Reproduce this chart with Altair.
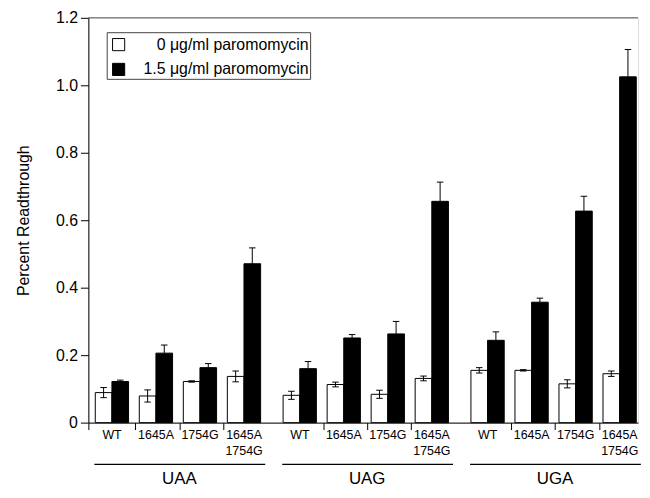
import altair as alt
import pandas as pd

# ---- data ----
codons = ["UAA", "UAG", "UGA"]
mutants = ["WT", "1645A", "1754G", "1645A\n1754G"]
series = ["0 μg/ml paromomycin", "1.5 μg/ml paromomycin"]
no_paro = [0.089, 0.079, 0.122, 0.137, 0.081, 0.113, 0.084, 0.131, 0.155, 0.155, 0.115, 0.145]
no_paro_err = [0.015, 0.018, 0.002, 0.016, 0.012, 0.007, 0.012, 0.007, 0.008, 0.002, 0.012, 0.008]
paro = [0.122, 0.206, 0.163, 0.471, 0.160, 0.251, 0.263, 0.656, 0.244, 0.357, 0.627, 1.025]
paro_err = [0.004, 0.024, 0.012, 0.047, 0.021, 0.010, 0.037, 0.057, 0.025, 0.012, 0.044, 0.081]
y_ticks = [0, 0.2, 0.4, 0.6, 0.8, 1.0, 1.2]

# ---- layout constants (in band units) ----
GAP = 0.267
STEP = 4 + GAP
BAR_W = 0.378
BAR_OFF = 0.09
CAP = 0.074
DMIN = -0.067
DMAX = 12.42
W, H = 554, 408

rows = []
for ci, c in enumerate(codons):
    for mi, m in enumerate(mutants):
        k = ci * 4 + mi
        for si, (vals, errs) in enumerate([(no_paro, no_paro_err), (paro, paro_err)]):
            v, e = vals[k], errs[k]
            xs = ci * STEP + mi + BAR_OFF + si * BAR_W
            xc = xs + BAR_W / 2
            rows.append(dict(codon=c, mutant=m, series=series[si], si=si, value=v,
                             lo=(v - e) if si == 0 else v, hi=v + e,
                             xs=xs, xe=xs + BAR_W, xc=xc, cl=xc - CAP, cr=xc + CAP))
df = pd.DataFrame(rows)

lab = pd.DataFrame([dict(mutant=m, xm=ci * STEP + mi + 0.47)
                    for ci in range(len(codons)) for mi, m in enumerate(mutants)])
cod = pd.DataFrame([dict(codon=c, xcen=ci * STEP + 2, x0=ci * STEP + 0.07, x1=ci * STEP + 3.95)
                    for ci, c in enumerate(codons)])

x_tick_vals = [DMIN] + [ci * STEP + j for ci in range(3) for j in (1, 2, 3)]

xscale = alt.Scale(domain=[DMIN, DMAX], nice=False, zero=False)
yscale = alt.Scale(domain=[0, 1.2], nice=False)
xaxis = alt.Axis(values=x_tick_vals, labels=False, tickSize=7, title=None, grid=False,
                 domainColor="black", tickColor="black")
yaxis = alt.Axis(values=y_ticks, labelExpr="datum.value == 0 ? '0' : format(datum.value, '.1f')",
                 tickSize=8, labelPadding=3, labelFontSize=16, title="Percent Readthrough",
                 titleFontSize=16, titleFontWeight="normal", titlePadding=24, grid=False,
                 domainColor="black", tickColor="black", labelColor="black", titleColor="black")


def X(f):
    return alt.X(f, type="quantitative", scale=xscale, axis=xaxis)


def Y(f):
    return alt.Y(f, type="quantitative", scale=yscale, axis=yaxis)


bars = alt.Chart(df).mark_bar(stroke="black", strokeWidth=1).encode(
    x=X("xs"), x2="xe", y=Y("value"), y2=alt.datum(0),
    fill=alt.Fill("series:N", scale=alt.Scale(domain=series, range=["white", "black"]), legend=None),
)
whisk = alt.Chart(df).mark_rule(color="black", strokeWidth=1).encode(x=X("xc"), y=Y("lo"), y2="hi")
cap_top = alt.Chart(df).mark_rule(color="black", strokeWidth=1).encode(x=X("cl"), x2="cr", y=Y("hi"))
cap_bot = alt.Chart(df).transform_filter("datum.si == 0").mark_rule(color="black", strokeWidth=1).encode(
    x=X("cl"), x2="cr", y=Y("lo"))

top_line = alt.Chart(pd.DataFrame({"a": [0]})).mark_rule(color="#555", strokeWidth=1).encode(
    x=alt.value(0), x2=alt.value(W), y=alt.value(0))

mut_text = alt.Chart(lab).mark_text(lineBreak="\n", fontSize=12.5, baseline="alphabetic",
                                    align="center", lineHeight=16, color="black").encode(
    x=X("xm"), y=alt.value(H + 17), text="mutant:N")
underline = alt.Chart(cod).mark_rule(color="black", strokeWidth=1.3).encode(
    x=X("x0"), x2="x1", y=alt.value(H + 42))
cod_text = alt.Chart(cod).mark_text(fontSize=17, baseline="middle", align="center", color="black").encode(
    x=X("xcen"), y=alt.value(H + 57), text="codon:N")

one = pd.DataFrame({"a": [0]})
leg_box = alt.Chart(one).mark_rect(fill="white", stroke="#444", strokeWidth=1).encode(
    x=alt.value(19), x2=alt.value(224), y=alt.value(15), y2=alt.value(62))
leg_layers = [leg_box]
for i, (s, col) in enumerate(zip(series, ["white", "black"])):
    ldf = pd.DataFrame({"series": [s]})
    leg_layers.append(alt.Chart(ldf).mark_square(size=150, fill=col, stroke="black", strokeWidth=1,
                                                 opacity=1).encode(
        x=alt.value(30.5), y=alt.value(27 + 25 * i)))
    leg_layers.append(alt.Chart(ldf).mark_text(fontSize=16, align="right", baseline="middle",
                                               color="black").encode(
        x=alt.value(222), y=alt.value(27 + 25 * i), text="series:N"))

chart = alt.layer(bars, whisk, cap_top, cap_bot, top_line, mut_text, underline, cod_text,
                  *leg_layers).properties(
    width=W, height=H, padding={"left": 7, "top": 0, "right": 0, "bottom": 0}
).configure_view(stroke=None).configure(font="Liberation Sans")

chart.save("out.html", embed_options={"renderer": "svg", "actions": False})
